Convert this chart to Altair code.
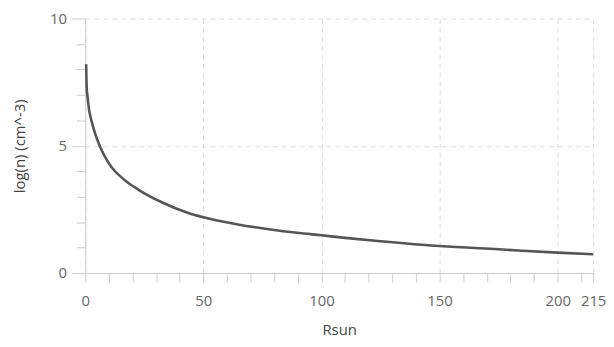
import altair as alt
import pandas as pd

r_sun = [0.4, 0.6, 1.0, 1.7, 2.6, 3.8, 6.1, 10, 16.6, 22.6, 32.4, 43.6, 50, 64.6, 78.5, 89.7,
         100, 110, 125, 150, 175, 200, 215]
log_n = [8.2, 7.35, 6.9, 6.38, 6.0, 5.6, 5.0, 4.31, 3.66, 3.27, 2.78, 2.36, 2.19, 1.91, 1.71, 1.58,
         1.48, 1.38, 1.25, 1.06, 0.93, 0.80, 0.74]

x_ticks = list(range(0, 211, 10)) + [215]
y_ticks = list(range(0, 11))

df = pd.DataFrame({"r": r_sun, "n": log_n})

FONT = "Open Sans"

chart = alt.Chart(df).mark_line(color="#555555", strokeWidth=2.6, interpolate="monotone").encode(
    x=alt.X("r:Q", title="Rsun",
            scale=alt.Scale(domain=[0, 215], nice=False, zero=False),
            axis=alt.Axis(values=x_ticks,
                          labelExpr="(datum.value % 50 === 0 || datum.value === 215) ? datum.label : ''",
                          labelOverlap=False, labelFlush=False,
                          tickSize=9, labelPadding=12,
                          gridOpacity={"expr": "(datum.value % 50 === 0 || datum.value === 215) ? 1 : 0"},
                          titlePadding=14)),
    y=alt.Y("n:Q", title="log(n) (cm^-3)",
            scale=alt.Scale(domain=[0, 10], nice=False),
            axis=alt.Axis(values=y_ticks,
                          labelExpr="datum.value % 5 === 0 ? datum.label : ''",
                          labelFlush=False,
                          tickSize={"expr": "datum.value % 5 === 0 ? 14 : 9"},
                          labelPadding=5,
                          gridOpacity={"expr": "datum.value % 5 === 0 ? 1 : 0"},
                          titlePadding=22)),
).properties(
    width=513, height=257,
    autosize=alt.AutoSizeParams(type="none"),
    padding={"left": 78, "top": 9, "right": 13, "bottom": 64},
).configure_axis(
    domainColor="#cccccc",
    tickColor="#cccccc",
    gridColor="#dddddd",
    gridDash=[5, 4],
    labelFont=FONT,
    labelFontSize=15,
    labelColor="#666666",
    titleFont=FONT,
    titleFontSize=15,
    titleFontWeight="normal",
    titleColor="#444444",
).configure_view(stroke=None)

chart.save("out.html", embed_options={"renderer": "svg", "actions": False})
